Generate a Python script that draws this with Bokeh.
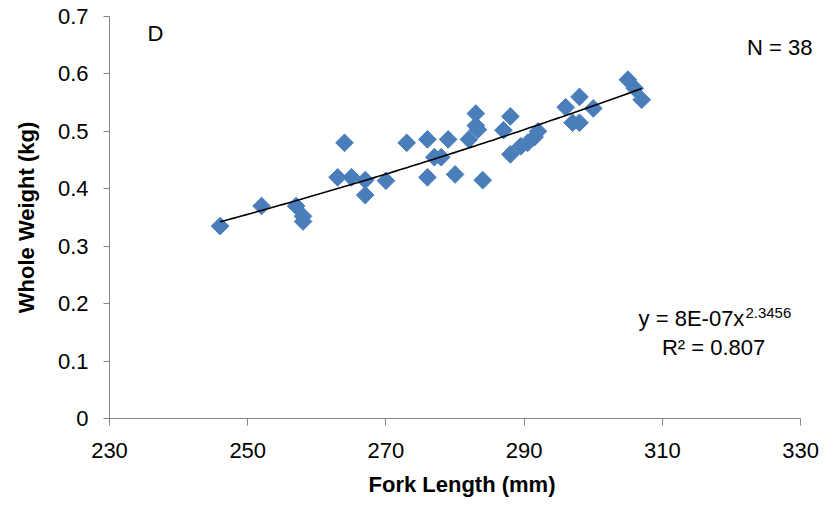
import numpy as np
from bokeh.plotting import figure
from bokeh.models import Range1d, FixedTicker, Label
from bokeh.embed import file_html
from bokeh.resources import INLINE

# Fork length (mm) and whole weight (kg)
fork_length = [246, 252, 257, 258, 258, 263, 264, 265, 267, 267,
               270, 273, 276, 279, 277, 278, 276, 280, 284, 282,
               283, 283, 283.3, 288, 287, 288, 289.5, 290.5, 291.5, 292,
               296, 298, 297, 298, 300, 305, 306, 307]
whole_weight = [0.335, 0.370, 0.370, 0.352, 0.343, 0.420, 0.480, 0.420, 0.415, 0.389,
                0.414, 0.480, 0.486, 0.486, 0.455, 0.455, 0.420, 0.425, 0.415, 0.486,
                0.531, 0.510, 0.503, 0.526, 0.502, 0.460, 0.474, 0.480, 0.490, 0.500,
                0.542, 0.560, 0.515, 0.515, 0.540, 0.590, 0.575, 0.555]

x_ticks = [230, 250, 270, 290, 310, 330]
y_ticks = [0, 0.1, 0.2, 0.3, 0.4, 0.5, 0.6, 0.7]
y_tick_labels = ["0", "0.1", "0.2", "0.3", "0.4", "0.5", "0.6", "0.7"]

panel_letter = "D"
n_text = "N = 38"
eq_text = "y = 8E-07x"
eq_exp = "2.3456"
r2_text = "R² = 0.807"

FONT = "Liberation Sans"
AXIS_COLOR = "#868686"
X_PAD = 2.0  # extra room at the right of the frame for the "N = 38" note

p = figure(width=830, height=505, output_backend="svg", toolbar_location=None,
           x_range=Range1d(x_ticks[0], x_ticks[-1] + X_PAD),
           y_range=Range1d(y_ticks[0], y_ticks[-1]),
           min_border_left=109, min_border_right=16, min_border_top=16,
           min_border_bottom=87)
p.outline_line_color = None
p.xgrid.visible = False
p.ygrid.visible = False
p.background_fill_color = "white"
p.border_fill_color = "white"

for ax in (p.xaxis[0], p.yaxis[0]):
    ax.axis_line_color = AXIS_COLOR
    ax.major_tick_line_color = AXIS_COLOR
    ax.minor_tick_line_color = None
    ax.major_tick_in = 0
    ax.major_label_text_font = FONT
    ax.major_label_text_font_size = "22px"
    ax.major_label_text_color = "black"
    ax.axis_label_text_font = FONT
    ax.axis_label_text_font_size = "22px"
    ax.axis_label_text_font_style = "bold"
    ax.axis_label_text_color = "black"

p.xaxis.bounds = (x_ticks[0], x_ticks[-1])
p.xaxis.ticker = FixedTicker(ticks=x_ticks)
p.yaxis.ticker = FixedTicker(ticks=y_ticks)
p.yaxis.major_label_overrides = {t: l for t, l in zip(y_ticks, y_tick_labels)}
p.xaxis.major_tick_out = 7
p.yaxis.major_tick_out = 6
p.xaxis.major_label_standoff = 17
p.yaxis.major_label_standoff = 15
p.xaxis.axis_label = "Fork Length (mm)"
p.yaxis.axis_label = "Whole Weight (kg)"
p.xaxis.axis_label_standoff = 11
p.yaxis.axis_label_standoff = 16

# power trend line fitted to the data (as in the original)
lx = np.log(np.array(fork_length, dtype=float))
ly = np.log(np.array(whole_weight, dtype=float))
b, a = np.polyfit(lx, ly, 1)
xs = np.linspace(min(fork_length), max(fork_length), 100)
ys = np.exp(a) * xs ** b

p.scatter(fork_length, whole_weight, marker="square", size=12.5, angle=np.pi / 4,
          fill_color="#4a7ebb", line_color="#4a7ebb", line_width=1)
p.line(xs, ys, line_color="black", line_width=1.6)

def lab(x, y, text, size="22px", align="left", baseline="alphabetic"):
    p.add_layout(Label(x=x, y=y, text=text, text_font=FONT, text_font_size=size,
                       text_align=align, text_baseline=baseline, text_color="black"))

lab(235.5, 0.670, panel_letter)
lab(331.7, 0.646, n_text, align="right", baseline="middle")
lab(306.55, 0.1739, eq_text)
lab(322.0, 0.1831, eq_exp, size="15px")
lab(317.4, 0.124, r2_text, align="center")

open("out.html", "w").write(file_html(p, INLINE))
